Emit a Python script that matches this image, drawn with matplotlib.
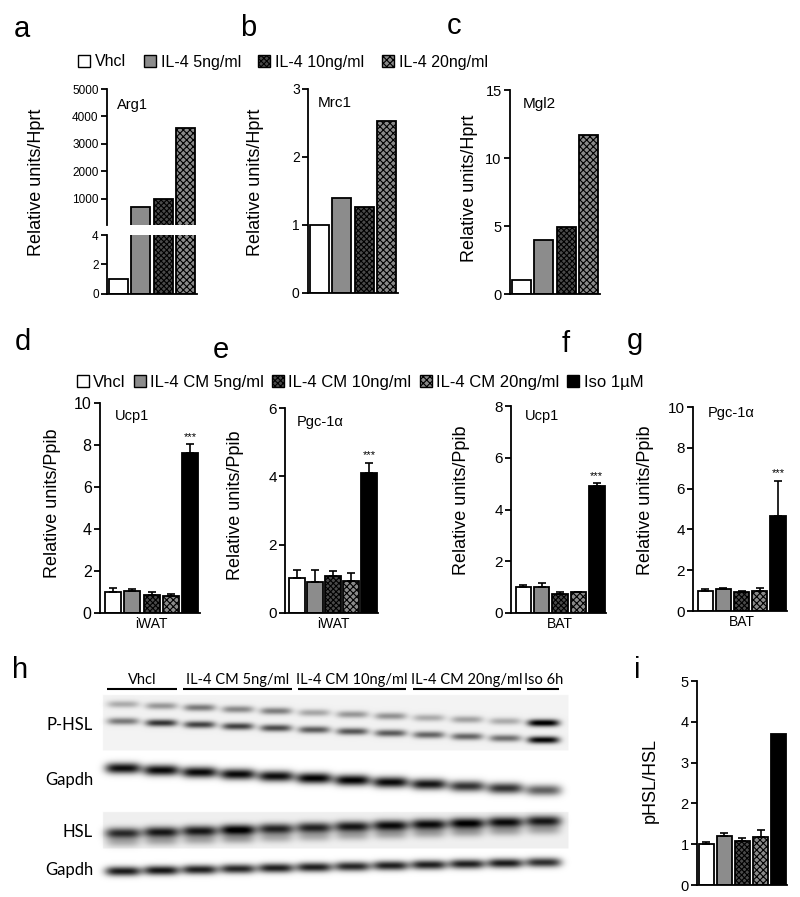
import numpy as np
import matplotlib.pyplot as plt
from matplotlib.patches import Patch

W, H = 800, 897
plt.rcParams['font.family'] = ['Liberation Sans', 'DejaVu Sans']
plt.rcParams['hatch.linewidth'] = 0.8

# ---- data ----
il4_groups = ['Vhcl', 'IL-4 5ng/ml', 'IL-4 10ng/ml', 'IL-4 20ng/ml']
arg1 = [1.0, 710, 1000, 3590]
mrc1 = [1.0, 1.40, 1.27, 2.53]
mgl2 = [1.0, 4.0, 4.9, 11.7]

cm_groups = ['Vhcl', 'IL-4 CM 5ng/ml', 'IL-4 CM 10ng/ml', 'IL-4 CM 20ng/ml', 'Iso 1µM']
ucp1_iwat = [1.0, 1.06, 0.88, 0.82, 7.62]
ucp1_iwat_err = [0.17, 0.08, 0.12, 0.08, 0.42]
pgc_iwat = [1.01, 0.91, 1.08, 0.93, 4.10]
pgc_iwat_err = [0.26, 0.34, 0.15, 0.23, 0.29]
ucp1_bat = [1.0, 1.0, 0.74, 0.80, 4.92]
ucp1_bat_err = [0.08, 0.17, 0.06, 0.03, 0.09]
pgc_bat = [1.0, 1.06, 0.92, 0.97, 4.66]
pgc_bat_err = [0.08, 0.05, 0.05, 0.17, 1.73]
phsl_ratio = [1.0, 1.19, 1.09, 1.17, 3.71]
phsl_ratio_err = [0.05, 0.09, 0.05, 0.18, 0.0]

# western blot: lanes per group and band strengths (0 = blank, 1 = black)
blot_groups = ['Vhcl', 'IL-4 CM 5ng/ml', 'IL-4 CM 10ng/ml', 'IL-4 CM 20ng/ml', 'Iso 6h']
blot_lanes = [2, 3, 3, 3, 1]
blot_rows = ['P-HSL', 'Gapdh', 'HSL', 'Gapdh']
phsl_upper = [0.28, 0.36, 0.48, 0.42, 0.46, 0.30, 0.36, 0.38, 0.28, 0.32, 0.28, 1.0]
phsl_lower = [0.48, 0.76, 0.70, 0.70, 0.66, 0.60, 0.62, 0.60, 0.56, 0.56, 0.52, 0.95]
gapdh_1 = [0.95, 0.97, 0.97, 0.97, 0.95, 1.0, 1.0, 0.97, 0.92, 0.80, 0.80, 0.62]
hsl = [0.78, 0.85, 0.85, 0.97, 0.80, 0.80, 0.85, 0.90, 0.90, 0.95, 0.90, 0.85]
gapdh_2 = [0.90, 0.92, 0.88, 0.85, 0.88, 0.88, 0.85, 0.88, 0.88, 0.88, 0.90, 0.82]

bar_styles = [dict(facecolor='white'),
              dict(facecolor='#8c8c8c'),
              dict(facecolor='#4a4a4a', hatch='xxxxxx'),
              dict(facecolor='#8a8a8a', hatch='xxxxx'),
              dict(facecolor='black')]

fig = plt.figure(figsize=(W / 100, H / 100), dpi=100)


def px_axes(x0, y0, x1, y1):
    return fig.add_axes([x0 / W, 1 - y1 / H, (x1 - x0) / W, (y1 - y0) / H])


def ftext(x, y, s, **kw):
    fig.text(x / W, 1 - y / H, s, **kw)


def draw_bars(ax, vals, errs=None, width=0.82):
    for i, v in enumerate(vals):
        ax.bar(i, v, width=width, edgecolor='black', linewidth=1.3, zorder=2, **bar_styles[i])
    if errs is not None:
        idx = [i for i, e in enumerate(errs) if e > 0]
        ax.errorbar(idx, [vals[i] for i in idx],
                    yerr=[np.zeros(len(idx)), [errs[i] for i in idx]],
                    fmt='none', ecolor='black', elinewidth=1.2, capsize=3,
                    capthick=1.2, zorder=3)


def style_ax(ax, ylim, yticks, fs, xlim, bottom=True):
    for s in ['top', 'right']:
        ax.spines[s].set_visible(False)
    ax.spines['left'].set_linewidth(1.3)
    ax.spines['bottom'].set_linewidth(1.3)
    if not bottom:
        ax.spines['bottom'].set_visible(False)
    ax.set_ylim(*ylim)
    ax.set_yticks(yticks)
    ax.set_xlim(*xlim)
    ax.tick_params(axis='y', labelsize=fs, length=4, width=1.3, pad=2)
    ax.tick_params(axis='x', length=0, labelsize=10, pad=3)
    ax.set_xticks([])
    ax.patch.set_alpha(0)


# ---- panel a (broken axis) ----
ax_up = px_axes(107, 89, 197, 225)
ax_lo = px_axes(107, 235, 197, 294)
for ax in (ax_up, ax_lo):
    draw_bars(ax, arg1, width=0.84)
style_ax(ax_up, (50, 5000), [1000, 2000, 3000, 4000, 5000], 8.5, (-0.5, 3.5), bottom=False)
style_ax(ax_lo, (0, 4), [0, 2, 4], 8.5, (-0.5, 3.5))
ax_up.text(0.11, 0.88, 'Arg1', transform=ax_up.transAxes, fontsize=10.5, va='center')

# ---- panel b ----
ax_b = px_axes(308, 89, 398, 293)
draw_bars(ax_b, mrc1, width=0.84)
style_ax(ax_b, (0, 3), [0, 1, 2, 3], 10, (-0.5, 3.5))
ax_b.text(0.11, 0.93, 'Mrc1', transform=ax_b.transAxes, fontsize=11, va='center')

# ---- panel c ----
ax_c = px_axes(510, 90, 600, 294)
draw_bars(ax_c, mgl2, width=0.84)
style_ax(ax_c, (0, 15), [0, 5, 10, 15], 10.5, (-0.5, 3.5))
ax_c.text(0.14, 0.93, 'Mgl2', transform=ax_c.transAxes, fontsize=11, va='center')

for x, y in [(37, 182), (256, 182), (469, 188)]:
    ftext(x, y, 'Relative units/Hprt', rotation=90, ha='center', va='center', fontsize=13)

# ---- panels d-g ----
dg = [
    (100, 403, 200, 613, ucp1_iwat, ucp1_iwat_err, (0, 10), np.arange(0, 11, 2), 'Ucp1', 'iWAT', 0.15, 0.94, 11.5),
    (285, 408, 378, 613, pgc_iwat, pgc_iwat_err, (0, 6), np.arange(0, 7, 2), 'Pgc-1α', 'iWAT', 0.13, 0.93, 11),
    (511, 406, 606, 613, ucp1_bat, ucp1_bat_err, (0, 8), np.arange(0, 9, 2), 'Ucp1', 'BAT', 0.15, 0.95, 11),
    (693, 407, 787, 611, pgc_bat, pgc_bat_err, (0, 10), np.arange(0, 11, 2), 'Pgc-1α', 'BAT', 0.16, 0.97, 11),
]
for x0, y0, x1, y1, vals, errs, ylim, yt, gene, tissue, tx, ty, fs in dg:
    ax = px_axes(x0, y0, x1, y1)
    draw_bars(ax, vals, errs, width=0.84)
    style_ax(ax, ylim, yt, fs, (-0.67, 4.5))
    ax.set_xticks([2])
    ax.set_xticklabels([tissue])
    ax.text(tx, ty, gene, transform=ax.transAxes, fontsize=10.5, va='center')
    ax.text(4, vals[4] + errs[4] + ylim[1] * 0.012, '***', ha='center', va='bottom', fontsize=8)

for x, y in [(53, 503), (235, 505), (461, 500), (645, 500)]:
    ftext(x, y, 'Relative units/Ppib', rotation=90, ha='center', va='center', fontsize=13)

# ---- panel i ----
ax_i = px_axes(697, 681, 787, 885)
draw_bars(ax_i, phsl_ratio, phsl_ratio_err, width=0.82)
style_ax(ax_i, (0, 5), [0, 1, 2, 3, 4, 5], 10.5, (-0.5, 4.45))
ftext(650, 780, 'pHSL/HSL', rotation=90, ha='center', va='center', fontsize=13)

# ---- legends ----
h1 = [Patch(edgecolor='black', linewidth=1.0, **bar_styles[i]) for i in range(4)]
fig.legend(h1, il4_groups, loc='center', bbox_to_anchor=(283 / W, 1 - 62 / H), ncol=4,
           frameon=False, fontsize=11.5, handlelength=0.75, handleheight=0.75,
           handletextpad=0.3, columnspacing=1.1, borderpad=0, borderaxespad=0)
h2 = [Patch(edgecolor='black', linewidth=1.0, **bar_styles[i]) for i in range(5)]
fig.legend(h2, cm_groups, loc='center', bbox_to_anchor=(360 / W, 1 - 382 / H), ncol=5,
           frameon=False, fontsize=12, handlelength=0.72, handleheight=0.72,
           handletextpad=0.25, columnspacing=0.5, borderpad=0, borderaxespad=0)

# ---- panel h: western blot ----
ax_h = px_axes(95, 665, 575, 892)
ax_h.set_xlim(95, 575)
ax_h.set_ylim(892, 665)
ax_h.axis('off')
bx = np.arange(95, 575, 0.5)
by = np.arange(665, 892, 0.5)
X, Y = np.meshgrid(bx, by)
D = np.zeros_like(X)
lane_x = 123 + 38.2 * np.arange(sum(blot_lanes))


def add_strip(y0, y1, bg):
    global D
    D = D + bg * ((X >= 103) & (X <= 568) & (Y >= y0) & (Y <= y1))


def add_bands(levels, yc0, slope, sy, hw=16.0):
    global D
    for i, lv in enumerate(levels):
        D = D + lv * np.exp(-(np.abs(X - lane_x[i]) / hw) ** 4) * np.exp(-((Y - (yc0 + slope * i)) / sy) ** 2)


add_strip(695, 750, 0.05)
add_strip(812, 848, 0.06)
add_bands(phsl_upper, 704, 1.7, 3.6)
add_bands(phsl_lower, 721, 1.7, 3.6)
add_bands(gapdh_1, 768, 2.0, 5.5, hw=18)
add_bands(hsl, 833, -1.1, 5.5, hw=18)
add_bands([v * 0.3 for v in hsl], 842, -1.1, 5.0, hw=17)
add_bands(gapdh_2, 871, -0.8, 4.8, hw=18)
ax_h.imshow(np.clip(D, 0, 1), cmap='gray_r', vmin=0, vmax=1, extent=[95, 575, 892, 665],
            aspect='auto', interpolation='bilinear')

start = 0
for g, n in zip(blot_groups, blot_lanes):
    xa = lane_x[start] - 16
    xb = lane_x[start + n - 1] + 16
    ax_h.plot([xa, xb], [689, 689], color='black', lw=1.5, solid_capstyle='butt')
    ax_h.text((xa + xb) / 2, 684, g, ha='center', va='baseline', fontsize=10.5, family='Lato')
    start += n

for name, y in zip(blot_rows, [725, 780, 832, 870]):
    ftext(93, y, name, ha='right', va='center', fontsize=12, family='Lato')

# ---- panel letters ----
for s, x, y in [('a', 14, 37), ('b', 240, 36), ('c', 447, 34), ('d', 15, 350), ('e', 213, 358),
                ('f', 562, 352), ('g', 627, 349), ('h', 12, 678), ('i', 634, 678)]:
    ftext(x, y, s, fontsize=21, va='baseline', ha='left')

fig.savefig('out.png', dpi=100)
